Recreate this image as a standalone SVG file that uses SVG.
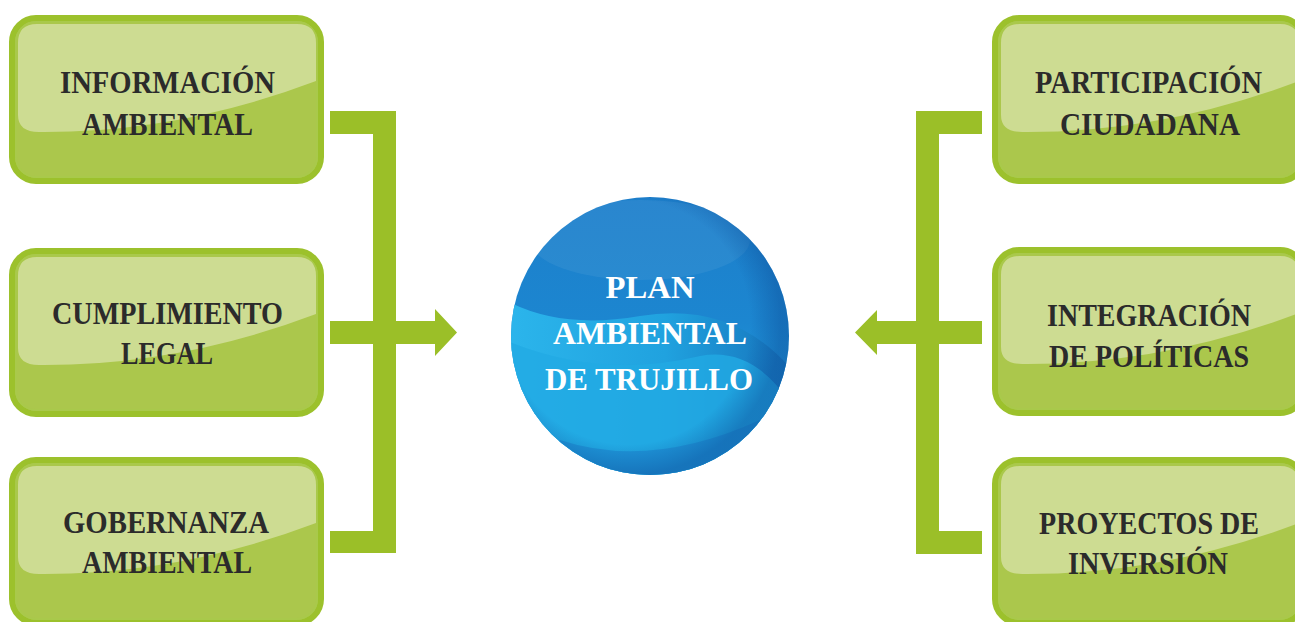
<svg xmlns="http://www.w3.org/2000/svg" xmlns:xlink="http://www.w3.org/1999/xlink" width="1295" height="622" viewBox="0 0 1295 622">
<style>
.lbl{font-family:"Liberation Serif","Times New Roman",serif;font-weight:bold;font-size:32px;fill:#2b2b2b;text-anchor:middle}
.clbl{font-family:"Liberation Serif","Times New Roman",serif;font-weight:bold;font-size:32px;fill:#ffffff;text-anchor:middle}
.bar{fill:#9bbf28}
</style>
<defs>
<g id="box">
<rect x="3" y="3" width="309" height="163" rx="24" ry="24" fill="#abc74c" stroke="#9cc12c" stroke-width="6"/>
<rect x="7" y="7" width="301" height="155" rx="20" ry="20" fill="none" stroke="#a9c94b" stroke-width="2"/>
<path d="M9,28 Q9,9 28,9 L288,9 Q307,9 307,28 L307,66 Q170,118 30,117 Q9,117 9,100 Z" fill="#cddc92"/>
</g>
<linearGradient id="gBase" x1="0" y1="0" x2="0" y2="1">
<stop offset="0" stop-color="#1d7fcb"/>
<stop offset="0.45" stop-color="#1c86d0"/>
<stop offset="1" stop-color="#23aee6"/>
</linearGradient>
<linearGradient id="gWave" x1="0" y1="0" x2="1" y2="0">
<stop offset="0" stop-color="#2cb6ec"/>
<stop offset="0.55" stop-color="#20a2df"/>
<stop offset="1" stop-color="#1670b9"/>
</linearGradient>
<radialGradient id="gRim" cx="0.42" cy="0.45" r="0.55">
<stop offset="0.8" stop-color="#0d4f9a" stop-opacity="0"/>
<stop offset="1" stop-color="#0d4f9a" stop-opacity="0.45"/>
</radialGradient>
<clipPath id="cc"><circle cx="650" cy="336" r="139"/></clipPath>
</defs>

<g id="connectors">
<path class="bar" d="M330,111 H396 V553 H330 V531 H373 V344 H330 V321 H373 V134 H330 Z"/>
<path class="bar" d="M396,321 H435 V309 L457,332.5 L435,356 V344 H396 Z"/>
<path class="bar" d="M982,111 H916 V554 H982 V531 H939 V344 H982 V321 H939 V134 H982 Z"/>
<path class="bar" d="M916,321 H877 V310 L855,332.5 L877,355 V344 H916 Z"/>
</g>

<g id="center">
<circle cx="650" cy="336" r="139" fill="url(#gBase)"/>
<g clip-path="url(#cc)">
<path d="M505,300 Q560,330 640,316 Q740,300 800,380 L800,480 L500,480 Z" fill="url(#gWave)"/>
<path d="M505,340 Q600,380 700,356 Q760,345 800,420 L800,480 L500,480 Z" fill="#22aae4" opacity="0.8"/>
<path d="M560,440 Q650,470 760,420 L800,480 L520,480 Z" fill="#1c86cf" opacity="0.6"/>
<ellipse cx="640" cy="240" rx="110" ry="40" fill="#ffffff" opacity="0.06"/>
</g>
<circle cx="650" cy="336" r="139" fill="url(#gRim)"/>
<text class="clbl" x="650" y="298" textLength="89" lengthAdjust="spacingAndGlyphs">PLAN</text>
<text class="clbl" x="650" y="344" textLength="194" lengthAdjust="spacingAndGlyphs">AMBIENTAL</text>
<text class="clbl" x="649" y="390" textLength="208" lengthAdjust="spacingAndGlyphs">DE TRUJILLO</text>
</g>

<g id="informacion">
<use xlink:href="#box" x="9" y="15"/>
<text class="lbl" x="167.5" y="93" textLength="215" lengthAdjust="spacingAndGlyphs">INFORMACIÓN</text>
<text class="lbl" x="167.5" y="135" textLength="171" lengthAdjust="spacingAndGlyphs">AMBIENTAL</text>
</g>
<g id="cumplimiento">
<use xlink:href="#box" x="9" y="248"/>
<text class="lbl" x="167.5" y="324" textLength="231" lengthAdjust="spacingAndGlyphs">CUMPLIMIENTO</text>
<text class="lbl" x="167" y="364" textLength="92" lengthAdjust="spacingAndGlyphs">LEGAL</text>
</g>
<g id="gobernanza">
<use xlink:href="#box" x="9" y="457"/>
<text class="lbl" x="166" y="533" textLength="206" lengthAdjust="spacingAndGlyphs">GOBERNANZA</text>
<text class="lbl" x="167" y="573" textLength="170" lengthAdjust="spacingAndGlyphs">AMBIENTAL</text>
</g>
<g id="participacion">
<use xlink:href="#box" x="992" y="15"/>
<text class="lbl" x="1148.5" y="93" textLength="227" lengthAdjust="spacingAndGlyphs">PARTICIPACIÓN</text>
<text class="lbl" x="1150" y="135" textLength="180" lengthAdjust="spacingAndGlyphs">CIUDADANA</text>
</g>
<g id="integracion">
<use xlink:href="#box" x="992" y="247"/>
<text class="lbl" x="1149" y="326" textLength="204" lengthAdjust="spacingAndGlyphs">INTEGRACIÓN</text>
<text class="lbl" x="1149" y="367" textLength="200" lengthAdjust="spacingAndGlyphs">DE POLÍTICAS</text>
</g>
<g id="proyectos">
<use xlink:href="#box" x="992" y="457"/>
<text class="lbl" x="1149" y="534" textLength="220" lengthAdjust="spacingAndGlyphs">PROYECTOS DE</text>
<text class="lbl" x="1148" y="574" textLength="160" lengthAdjust="spacingAndGlyphs">INVERSIÓN</text>
</g>
</svg>
